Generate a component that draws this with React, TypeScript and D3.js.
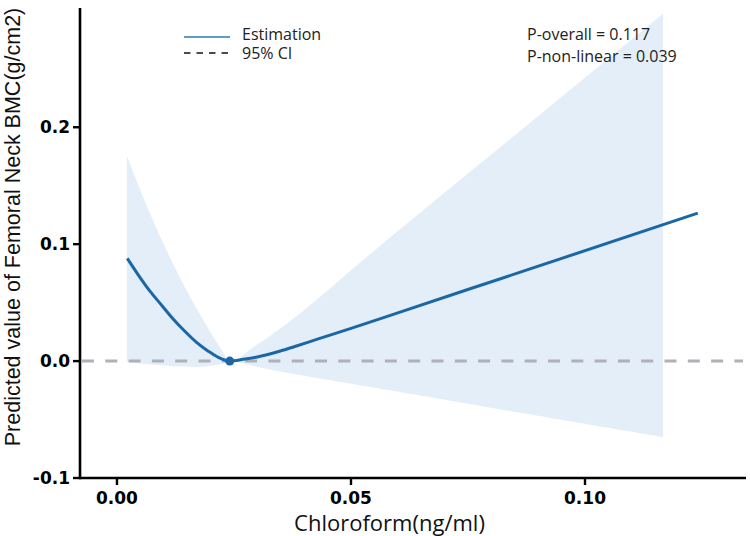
import * as d3 from 'd3';

// Estimation curve (restricted cubic spline)
const estX = [0.0022, 0.0045, 0.007, 0.0095, 0.012, 0.0145, 0.017, 0.0195, 0.0215, 0.0241, 0.027, 0.03, 0.034, 0.038, 0.043, 0.05, 0.06, 0.0865, 0.1241];
const estY = [0.0878, 0.074, 0.06, 0.048, 0.036, 0.0255, 0.016, 0.0085, 0.0035, 0, 0.0015, 0.0035, 0.0075, 0.0125, 0.019, 0.028, 0.0413, 0.0765, 0.1265];

// 95% CI band
const ciX = [0.0021, 0.005, 0.0096, 0.013, 0.0171, 0.02, 0.0226, 0.0241, 0.03, 0.0391, 0.0551, 0.0865, 0.1167];
const ciUpper = [0.176, 0.146, 0.1034, 0.075, 0.0443, 0.0246, 0.008, 0, 0.0142, 0.0408, 0.0949, 0.198, 0.2974];
const ciLower = [-0.0005, -0.002, -0.0035, -0.0045, -0.005, -0.004, -0.002, 0, -0.005, -0.012, -0.0229, -0.0444, -0.065];

const refX = 0.0241;
const xTicks = [0, 0.05, 0.1];
const yTicks = [-0.1, 0, 0.1, 0.2];
const pTexts = ['P-overall = 0.117', 'P-non-linear = 0.039'];
const legendItems = ['Estimation', '95% CI'];

const W = 750;
const H = 536;
const lineColor = '#1b67a6';
const bandColor = '#e3eef8';

export default function App() {
  const x = d3.scaleLinear().domain([-0.0079, 0.1344]).range([80, 746]);
  const y = d3.scaleLinear().domain([-0.1, 0.302]).range([478, 8]);

  const est = estX.map((v, i) => ({ x: v, y: estY[i] }));
  const band = ciX.map((v, i) => ({ x: v, lo: ciLower[i], hi: ciUpper[i] }));

  const line = d3.line<{ x: number; y: number }>()
    .x(d => x(d.x))
    .y(d => y(d.y))
    .curve(d3.curveMonotoneX);

  const area = d3.area<{ x: number; lo: number; hi: number }>()
    .x(d => x(d.x))
    .y0(d => y(d.lo))
    .y1(d => y(d.hi))
    .curve(d3.curveCatmullRom.alpha(0.5));

  const [x0, x1] = x.range();
  const [yb, yt] = y.range();
  const tickFont = { fontFamily: 'DejaVu Sans', fontWeight: 'bold', fontSize: 17 } as const;

  return (
    <svg width={W} height={H} style={{ position: 'absolute', left: 0, top: 0 }}>
      <rect width={W} height={H} fill="#fff" />

      {/* CI band */}
      <path d={area(band) || ''} fill={bandColor} />

      {/* reference line at 0 */}
      <line x1={x0 + 2} x2={x1 - 3} y1={y(0)} y2={y(0)}
        stroke="#b0b0b8" strokeWidth={3} strokeDasharray="12,11.3" />

      {/* estimation */}
      <path d={line(est) || ''} fill="none" stroke={lineColor} strokeWidth={3} />
      <circle cx={x(refX)} cy={y(0)} r={4.5} fill={lineColor} />

      {/* axes */}
      <line x1={x0} x2={x1} y1={yb} y2={yb} stroke="#000" strokeWidth={2.6} />
      <line x1={x0} x2={x0} y1={yb + 1.3} y2={yt} stroke="#000" strokeWidth={2.6} />
      {xTicks.map(t => (
        <g key={t}>
          <line x1={x(t)} x2={x(t)} y1={yb} y2={yb + 7} stroke="#000" strokeWidth={2.4} />
          <text x={x(t)} y={504} textAnchor="middle" style={tickFont}>{t.toFixed(2)}</text>
        </g>
      ))}
      {yTicks.map(t => (
        <g key={t}>
          <line x1={x0 - 7} x2={x0} y1={y(t)} y2={y(t)} stroke="#000" strokeWidth={2.4} />
          <text x={70} y={y(t)} dy="0.36em" textAnchor="end" style={tickFont}>{t.toFixed(1)}</text>
        </g>
      ))}

      {/* axis titles */}
      <text x={389.5} y={531} textAnchor="middle"
        style={{ fontFamily: 'Open Sans', fontSize: 22, fill: '#111' }}>
        Chloroform(ng/ml)
      </text>
      <text transform="translate(19.5,227) rotate(-90)" textAnchor="middle"
        style={{ fontFamily: 'Liberation Sans', fontSize: 21.5, fill: '#111' }}>
        Predicted value of Femoral Neck BMC(g/cm2)
      </text>

      {/* legend */}
      <line x1={184} x2={230} y1={37} y2={37} stroke="#2b7bb3" strokeWidth={1.6} />
      <line x1={184} x2={230} y1={53} y2={53} stroke="#111" strokeWidth={1.5} strokeDasharray="6.5,6" />
      {legendItems.map((s, i) => (
        <text key={s} x={242} y={40 + i * 18.5}
          style={{ fontFamily: 'Open Sans', fontSize: 16, fill: '#222' }}>{s}</text>
      ))}

      {/* p-values */}
      {pTexts.map((s, i) => (
        <text key={s} x={527} y={39.5 + i * 22}
          style={{ fontFamily: 'Open Sans', fontSize: 16, fill: '#222' }}>{s}</text>
      ))}
    </svg>
  );
}
